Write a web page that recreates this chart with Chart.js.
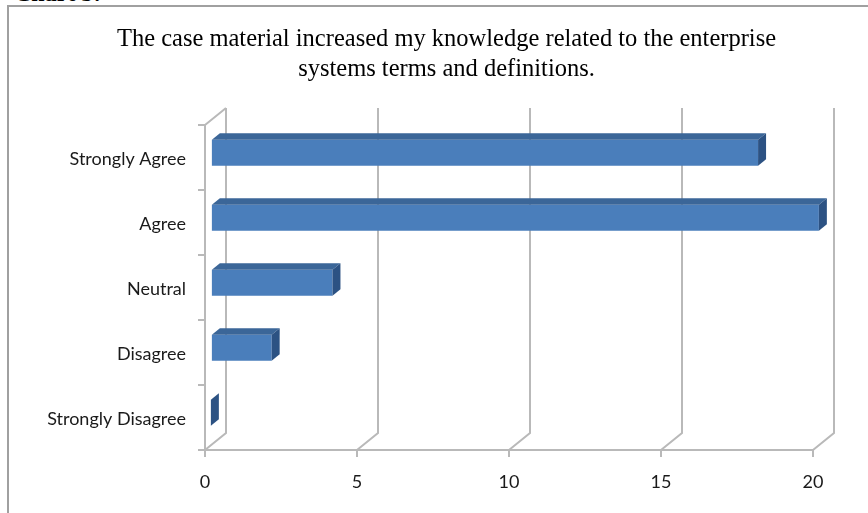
<!DOCTYPE html>
<html>
<head>
<meta charset="utf-8">
<title>Chart 5</title>
<script src="https://cdn.jsdelivr.net/npm/chart.js@4.4.0/dist/chart.umd.min.js"></script>
<style>
  html, body { margin: 0; padding: 0; background: #fff; }
  #wrap { position: relative; width: 868px; height: 513px; overflow: hidden; }
  #caption { position: absolute; left: 14px; top: -19px; font: bold 24px/24px "Liberation Serif", serif; color: #000; }
  #frame { position: absolute; left: 7px; top: 5px; width: 900px; height: 560px;
           border-left: 2px solid #a0a0a0; border-top: 2px solid #a0a0a0; }
  canvas { position: absolute; left: 0; top: 0; }
</style>
</head>
<body>
<div id="wrap">
  <div id="caption">Chart 5:</div>
  <div id="frame"></div>
  <canvas id="chart" width="868" height="513"></canvas>
</div>
<script>
var categories = ['Strongly Agree', 'Agree', 'Neutral', 'Disagree', 'Strongly Disagree'];
var responses = [18, 20, 4, 2, 0];
var valueTicks = [0, 5, 10, 15, 20];
var titleLines = ['The case material increased my knowledge related to the enterprise',
                  'systems terms and definitions.'];

var gridColor = '#b9b9b9';
var textColor = '#1a1a1a';
var labelFont = { family: 'Lato', size: 18 };

// fake 3D: back wall offset and where the bars sit inside that depth
var depthX = 21, depthY = -17;
var barFront = 0.28, barBack = 0.66;
var frontColor = '#4a7ebb', topColor = '#3b6698', sideColor = '#2c5283';

var box3d = {
  id: 'box3d',
  beforeDatasetsDraw: function (chart) {
    var ctx = chart.ctx, xs = chart.scales.x, a = chart.chartArea;
    ctx.save();
    ctx.strokeStyle = gridColor;
    ctx.lineWidth = 2;
    ctx.beginPath();
    xs.ticks.forEach(function (t) {
      var px = xs.getPixelForValue(t.value);
      ctx.moveTo(px, a.bottom);
      ctx.lineTo(px + depthX, a.bottom + depthY);
      ctx.lineTo(px + depthX, a.top + depthY);
    });
    // top edge of the side wall
    ctx.moveTo(a.left, a.top);
    ctx.lineTo(a.left + depthX, a.top + depthY);
    ctx.stroke();
    ctx.restore();
  },
  beforeDatasetDraw: function (chart) {
    chart.ctx.save();
    chart.ctx.translate(depthX * barFront, depthY * barFront);
  },
  afterDatasetDraw: function (chart, args) {
    var ctx = chart.ctx;
    var bx = depthX * (barBack - barFront), by = depthY * (barBack - barFront);
    args.meta.data.forEach(function (bar) {
      var p = bar.getProps(['x', 'y', 'base', 'height'], true);
      var top = p.y - p.height / 2, bottom = p.y + p.height / 2;
      // top face
      ctx.fillStyle = topColor;
      ctx.beginPath();
      ctx.moveTo(p.base, top);
      ctx.lineTo(p.x, top);
      ctx.lineTo(p.x + bx, top + by);
      ctx.lineTo(p.base + bx, top + by);
      ctx.closePath();
      ctx.fill();
      // end face
      ctx.fillStyle = sideColor;
      ctx.beginPath();
      ctx.moveTo(p.x, top);
      ctx.lineTo(p.x + bx, top + by);
      ctx.lineTo(p.x + bx, bottom + by);
      ctx.lineTo(p.x, bottom);
      ctx.closePath();
      ctx.fill();
    });
    ctx.restore();
  }
};

new Chart(document.getElementById('chart'), {
  type: 'bar',
  data: {
    labels: categories,
    datasets: [{
      data: responses,
      backgroundColor: frontColor,
      borderWidth: 0,
      categoryPercentage: 1,
      barPercentage: 0.4,
      clip: false
    }]
  },
  options: {
    indexAxis: 'y',
    responsive: false,
    animation: false,
    layout: { padding: { left: 30, right: 5, top: 8, bottom: 0 } },
    plugins: {
      legend: { display: false },
      tooltip: { enabled: false },
      title: {
        display: true,
        text: titleLines,
        color: '#000',
        font: { family: 'Liberation Serif', size: 24.5, weight: 'normal', lineHeight: 1.2 },
        padding: { top: 17, bottom: 41.2 }
      }
    },
    scales: {
      x: {
        min: 0,
        max: 20,
        afterBuildTicks: function (s) { s.ticks = valueTicks.map(function (v) { return { value: v }; }); },
        afterFit: function (s) { s.height = 63; },
        grid: { drawOnChartArea: false, tickLength: 7, color: gridColor, lineWidth: 2 },
        border: { color: gridColor, width: 2 },
        ticks: { font: labelFont, color: textColor, padding: 14 }
      },
      y: {
        afterFit: function (s) { s.width = 175; },
        grid: { drawOnChartArea: false, offset: true, tickLength: 7, color: gridColor, lineWidth: 2 },
        border: { color: gridColor, width: 2 },
        ticks: { font: labelFont, color: textColor, padding: 12, labelOffset: 2 }
      },
      // empty strip on the right that leaves room for the back wall
      edge: {
        type: 'linear',
        axis: 'y',
        position: 'right',
        afterFit: function (s) { s.width = 50; },
        grid: { display: false },
        border: { display: false },
        ticks: { display: false }
      }
    }
  },
  plugins: [box3d]
});
</script>
</body>
</html>
